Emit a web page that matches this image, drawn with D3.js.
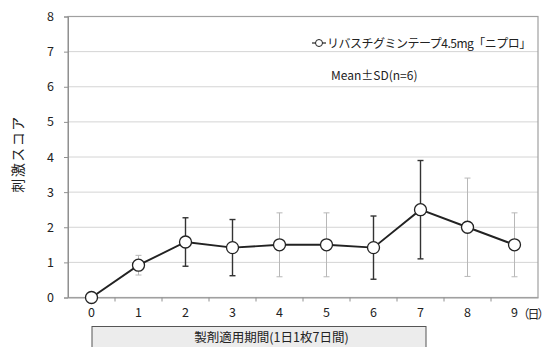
<!DOCTYPE html>
<html><head><meta charset="utf-8">
<script src="https://cdn.jsdelivr.net/npm/d3@7"></script>
<style>body{margin:0;background:#fff}svg{display:block}text{font-family:"Noto Sans CJK JP","Noto Sans",sans-serif}</style>
</head><body><svg id="c" width="550" height="347"></svg>
<script>
const days = ["0","1","2","3","4","5","6","7","8","9"];
const means = [0, 0.92, 1.58, 1.42, 1.5, 1.5, 1.42, 2.5, 2.0, 1.5];
const sds = [0, 0.28, 0.69, 0.8, 0.91, 0.91, 0.9, 1.4, 1.4, 0.91];
const yTicks = [0,1,2,3,4,5,6,7,8];
const seriesName = "リバスチグミンテープ4.5mg「ニプロ」";
const noteText = "Mean±SD(n=6)";
const yTitle = "刺激スコア";
const periodText = "製剤適用期間(1日1枚7日間)";
const unitText = "（日）";
const errDark = [true,false,true,true,false,false,true,true,false,false];

const svg = d3.select("#c");
const L=68,R=538,T=16.5,B=297.5;
const x = d3.scaleBand().domain(days).range([L,R]);
const y = d3.scaleLinear().domain([0,8]).range([B,T]);

// grid
svg.append("g").selectAll("line").data(yTicks.slice(1,-1)).join("line")
  .attr("x1",L).attr("x2",R).attr("y1",d=>y(d)).attr("y2",d=>y(d))
  .attr("stroke","#d4d4d4").attr("stroke-width",1);
// frame
svg.append("rect").attr("x",L).attr("y",T).attr("width",R-L).attr("height",B-T)
  .attr("fill","none").attr("stroke","#a0a0a0").attr("stroke-width",1.2);

// y axis
const ya = svg.append("g").attr("transform",`translate(${L},0)`)
  .call(d3.axisLeft(y).tickValues(yTicks).tickSize(4).tickPadding(10));
ya.select(".domain").attr("stroke","#909090");
ya.selectAll(".tick line").attr("stroke","#909090");
ya.selectAll("text").attr("font-size",12.5).attr("fill","#222").attr("font-family","Arial, Liberation Sans, sans-serif");

// x axis
const xa = svg.append("g").attr("transform",`translate(0,${B})`)
  .call(d3.axisBottom(x).tickSize(0).tickPadding(11));
xa.select(".domain").attr("stroke","#a0a0a0");
xa.selectAll("text").attr("font-size",12.5).attr("fill","#222").attr("font-family","Arial, Liberation Sans, sans-serif");
// between-category ticks
svg.append("g").selectAll("line").data(days.slice(1)).join("line")
  .attr("x1",d=>x(d)).attr("x2",d=>x(d)).attr("y1",B).attr("y2",B+4)
  .attr("stroke","#909090");
// unit
svg.append("text").attr("x",x("9")+x.bandwidth()/2+3).attr("y",B+21)
  .attr("font-size",12).attr("letter-spacing",-2).attr("fill","#222").text(unitText);

// y title
svg.append("text").attr("transform",`translate(23,154) rotate(-90)`)
  .attr("text-anchor","middle").attr("font-size",14).attr("letter-spacing",1.5).attr("fill","#222").text(yTitle);

const cx = d=>x(d)+x.bandwidth()/2;
// error bars
const eb = svg.append("g");
days.forEach((d,i)=>{
  if(sds[i]===0) return;
  const col = errDark[i] ? "#333" : "#b8b8b8";
  const w = errDark[i] ? 1.4 : 1;
  const x0=cx(d);
  eb.append("line").attr("x1",x0).attr("x2",x0).attr("y1",y(means[i]+sds[i])).attr("y2",y(means[i]-sds[i])).attr("stroke",col).attr("stroke-width",w);
  [means[i]+sds[i],means[i]-sds[i]].forEach(v=>{
    eb.append("line").attr("x1",x0-3).attr("x2",x0+3).attr("y1",y(v)).attr("y2",y(v)).attr("stroke",col).attr("stroke-width",w);
  });
});
// line
svg.append("path").datum(days.map((d,i)=>[cx(d),y(means[i])]))
  .attr("d",d3.line()).attr("fill","none").attr("stroke","#222").attr("stroke-width",1.9);
svg.append("g").selectAll("circle").data(days).join("circle")
  .attr("cx",cx).attr("cy",(d,i)=>y(means[i])).attr("r",6)
  .attr("fill","#fff").attr("stroke","#222").attr("stroke-width",1.3);

// legend
const lg = svg.append("g");
lg.append("line").attr("x1",312).attr("x2",326).attr("y1",43).attr("y2",43).attr("stroke","#222").attr("stroke-width",1.2);
lg.append("circle").attr("cx",319).attr("cy",43).attr("r",3.5).attr("fill","#fff").attr("stroke","#222");
lg.append("text").attr("x",327).attr("y",47.5).attr("font-size",12).attr("fill","#222").attr("letter-spacing",-0.5).text(seriesName);
lg.append("text").attr("x",331).attr("y",80).attr("font-size",12).attr("fill","#222").text(noteText);

// period box
svg.append("rect").attr("x",x("1")-x.bandwidth()/2+0.5).attr("y",326.5).attr("width",x("7")+x.bandwidth()/2 - (x("1")-x.bandwidth()/2)+5).attr("height",25)
  .attr("fill","#ececec").attr("stroke","#555").attr("stroke-width",1);
svg.append("text").attr("x",(x("1")+x("7"))/2+x.bandwidth()/2-8).attr("y",342)
  .attr("text-anchor","middle").attr("font-size",12.5).attr("fill","#222").text(periodText);
</script></body></html>
